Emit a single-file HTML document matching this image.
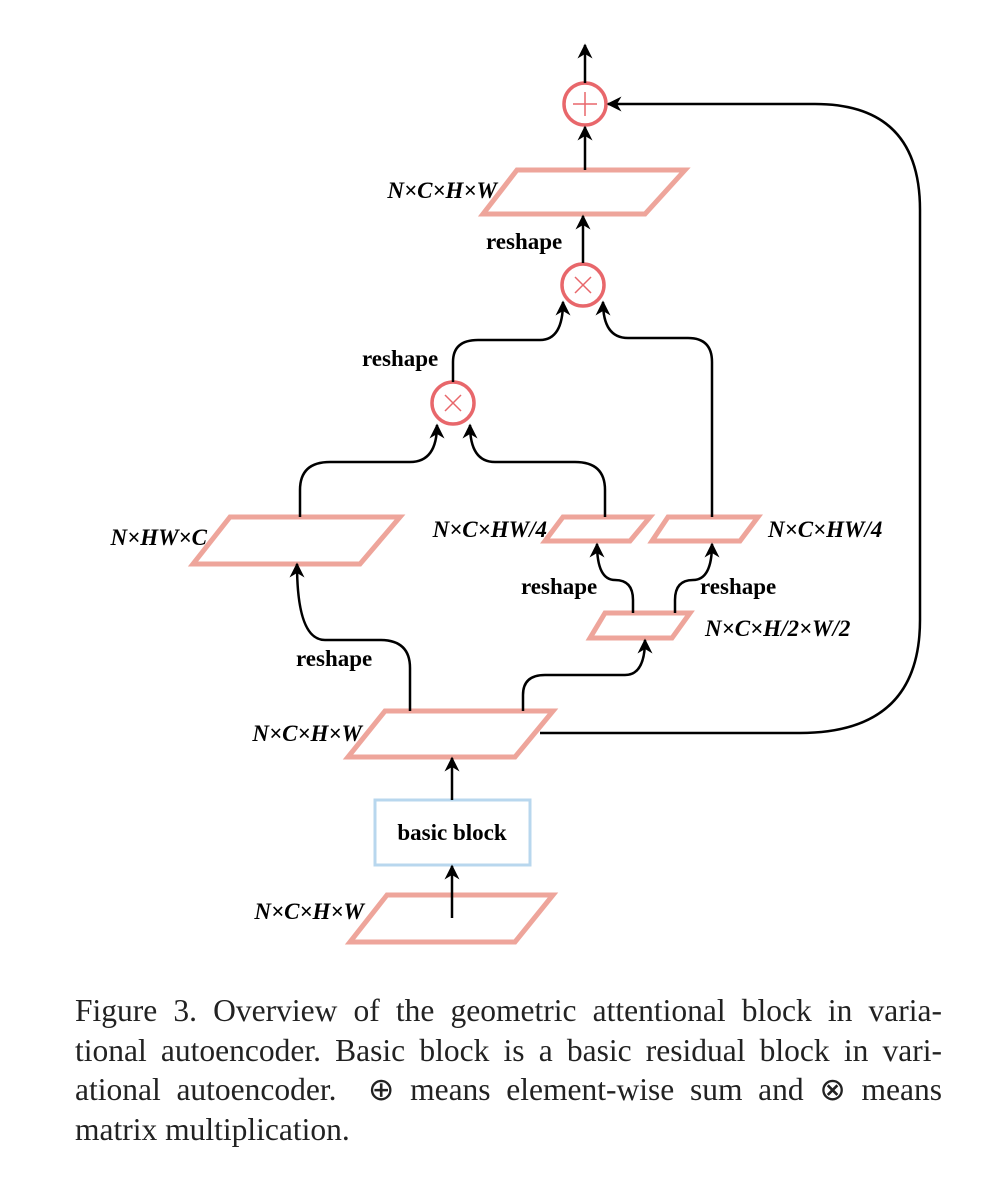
<!DOCTYPE html>
<html><head><meta charset="utf-8"><style>
body{margin:0;background:#fff;width:1008px;height:1186px;overflow:hidden;position:relative}
svg{position:absolute;left:0;top:0}
.l{position:absolute;left:75px;width:867px;font-family:"Liberation Serif",serif;font-size:31.5px;line-height:34px;text-align:justify;text-align-last:justify;color:#222;white-space:nowrap}
.l.last{text-align-last:left}
</style></head><body>
<svg width="1008" height="1186" viewBox="0 0 1008 1186">
<defs>
<marker id="b" viewBox="0 0 10 10" refX="9" refY="5" markerWidth="15" markerHeight="15" markerUnits="userSpaceOnUse" orient="auto-start-reverse"><path d="M0,0 L10,5 L0,10 L3,5z" fill="#000"/></marker></defs>
<g fill="none" stroke="#eea59b" stroke-width="5">
<polygon points="517,170 685,170 645,214 483,214"/>
<polygon points="230,517 400,517 360,564 193,564"/>
<polygon points="563,517 650,517 630,541 545,541"/>
<polygon points="668,517 758,517 740,541 652,541"/>
<polygon points="605,613 690,613 672,638 590,638"/>
<polygon points="385,711 553,711 515,757 348,757"/>
<polygon points="387,895 553,895 515,942 350,942"/>
</g>
<rect x="375" y="800" width="155" height="65" fill="none" stroke="#b8d7ee" stroke-width="3"/>
<g fill="none" stroke="#e8676b" stroke-width="3.5">
<circle cx="585" cy="104" r="21"/><circle cx="583" cy="285" r="21"/><circle cx="453" cy="403" r="21"/>
</g>
<g stroke="#e8676b" stroke-width="1.5">
<line x1="573" y1="104" x2="597" y2="104"/><line x1="585" y1="92" x2="585" y2="116"/>
<line x1="575" y1="277" x2="591" y2="293"/><line x1="591" y1="277" x2="575" y2="293"/>
<line x1="445" y1="395" x2="461" y2="411"/><line x1="461" y1="395" x2="445" y2="411"/>
</g>
<g fill="none" stroke="#000" stroke-width="2.5" marker-end="url(#b)">
<path d="M585,83 L585,45"/>
<path d="M585,170 L585,127"/>
<path d="M583,263 L583,216"/>
<path d="M540,733 L800,733 Q920,733 920,620 L920,210 Q920,104 815,104 L608,104"/>
<path d="M453,382 L453,362 Q453,340 478,340 L540,340 Q563,340 563,302"/>
<path d="M712,517 L712,362 Q712,338 688,338 L628,338 Q603,338 603,302"/>
<path d="M300,517 L300,490 Q300,462 330,462 L410,462 Q437,462 437,425"/>
<path d="M605,517 L605,490 Q605,462 575,462 L495,462 Q470,462 470,425"/>
<path d="M633,613 L633,600 Q633,580 615,580 Q597,580 597,544"/>
<path d="M675,613 L675,600 Q675,580 693,580 Q712,580 712,544"/>
<path d="M410,711 L410,668 Q410,640 380,640 L325,640 Q297,640 297,564"/>
<path d="M523,711 L523,695 Q523,675 545,675 L625,675 Q645,675 645,640"/>
<path d="M452,800 L452,758"/>
<path d="M452,918 L452,866"/>
</g>
<g font-family="Liberation Serif,serif" font-weight="bold" font-size="23" fill="#000">
<text x="486" y="249">reshape</text>
<text x="362" y="366">reshape</text>
<text x="521" y="594">reshape</text>
<text x="700" y="594">reshape</text>
<text x="296" y="666">reshape</text>
<text x="452" y="840" text-anchor="middle">basic block</text>
</g>
<g font-family="Liberation Serif,serif" font-weight="bold" font-style="italic" font-size="23" fill="#000">
<text x="497" y="198" text-anchor="end">N×C×H×W</text>
<text x="207" y="545" text-anchor="end">N×HW×C</text>
<text x="547" y="537" text-anchor="end">N×C×HW/4</text>
<text x="768" y="537">N×C×HW/4</text>
<text x="705" y="636">N×C×H/2×W/2</text>
<text x="362" y="741" text-anchor="end">N×C×H×W</text>
<text x="364" y="919" text-anchor="end">N×C×H×W</text>
</g>
</svg>
<div class="l" style="top:994px">Figure 3. Overview of the geometric attentional block in varia-</div>
<div class="l" style="top:1034px">tional autoencoder. Basic block is a basic residual block in vari-</div>
<div class="l" style="top:1073px">ational autoencoder. &nbsp;⊕ means element-wise sum and ⊗ means</div>
<div class="l last" style="top:1113px">matrix multiplication.</div>
</body></html>
